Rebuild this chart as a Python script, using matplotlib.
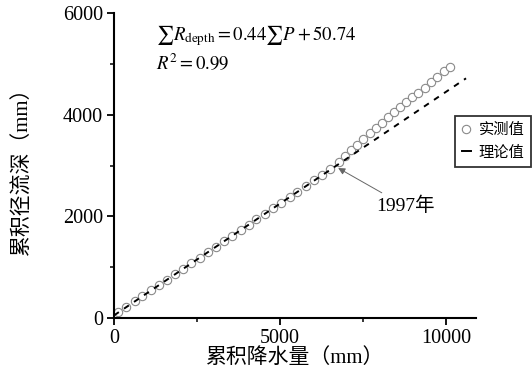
import matplotlib
matplotlib.use("Agg")
import matplotlib.pyplot as plt
from matplotlib.ticker import MultipleLocator

plt.rcParams["font.family"] = ["Liberation Serif", "Noto Sans CJK SC"]
plt.rcParams["mathtext.fontset"] = "stix"

# cumulative precipitation (mm) and cumulative runoff depth (mm), one point per year
precip = [130, 360, 620, 850, 1110, 1360, 1590, 1840, 2080, 2330, 2590, 2820, 3070, 3310,
          3560, 3820, 4050, 4290, 4550, 4790, 5030, 5290, 5520, 5770, 6030, 6270, 6510, 6777,
          6960, 7150, 7320, 7510, 7700, 7880, 8060, 8250, 8430, 8610, 8800, 8980, 9160, 9350,
          9550, 9740, 9930, 10120]
runoff = [108, 215, 330, 425, 545, 645, 755, 860, 970, 1080, 1190, 1295, 1405, 1510,
          1620, 1725, 1835, 1945, 2050, 2155, 2265, 2380, 2485, 2590, 2705, 2810, 2925, 3065,
          3190, 3300, 3410, 3530, 3630, 3730, 3840, 3950, 4060, 4150, 4250, 4340, 4430, 4530,
          4640, 4750, 4850, 4945]

# fitted line end points
theory_p = [0, 10600]
theory_r = [51, 4715]

fig = plt.figure(figsize=(5.32, 3.72), dpi=100)
ax = fig.add_axes([0.2143, 0.1452, 0.6804, 0.8198])

ax.plot(precip, runoff, linestyle="none", marker="o", markersize=6,
        markerfacecolor="white", markeredgecolor="#8a8a8a", markeredgewidth=0.8,
        label="实测值", zorder=2)
ax.plot(theory_p, theory_r, color="black", linewidth=1.4, linestyle=(0, (3, 3.2)),
        label="理论值", zorder=3)

ax.set_xlim(0, 10900)
ax.set_ylim(0, 6000)
ax.xaxis.set_major_locator(MultipleLocator(5000))
ax.xaxis.set_minor_locator(MultipleLocator(2500))
ax.yaxis.set_major_locator(MultipleLocator(2000))
ax.yaxis.set_minor_locator(MultipleLocator(1000))
ax.tick_params(which="major", direction="out", length=5, width=1.3, labelsize=14.5, pad=3)
ax.tick_params(which="minor", direction="out", length=3, width=1.1)
for side in ("top", "right"):
    ax.spines[side].set_visible(False)
for side in ("left", "bottom"):
    ax.spines[side].set_linewidth(1.5)

ax.set_xlabel("累积降水量（mm）", fontsize=15, labelpad=0)
ax.set_ylabel("累积径流深（mm）", fontsize=15, labelpad=22)

ax.text(0.115, 0.925, r"$\sum R_{\rm depth}=0.44\sum P+50.74$", transform=ax.transAxes,
        fontsize=13.5, va="center", ha="left")
ax.text(0.115, 0.835, r"$R^2=0.99$", transform=ax.transAxes,
        fontsize=13.5, va="center", ha="left")

ax.annotate("1997年", xy=(6750, 2950), xytext=(7890, 2200), fontsize=14,
            va="center", ha="left",
            arrowprops=dict(arrowstyle="-|>", color="#666666", lw=0.7,
                            shrinkA=2, shrinkB=0, mutation_scale=10))

leg = ax.legend(loc="upper left", bbox_to_anchor=(0.942, 0.662), frameon=True,
                fancybox=False, edgecolor="black", fontsize=11, handlelength=0.6,
                handletextpad=0.5, borderpad=0.45, labelspacing=0.55, borderaxespad=0)
leg.get_frame().set_linewidth(1.3)
for h in leg.legend_handles:
    if h.get_linestyle() not in ("None", "none"):
        h.set_linestyle("-")

fig.savefig("out.png", dpi=100)
